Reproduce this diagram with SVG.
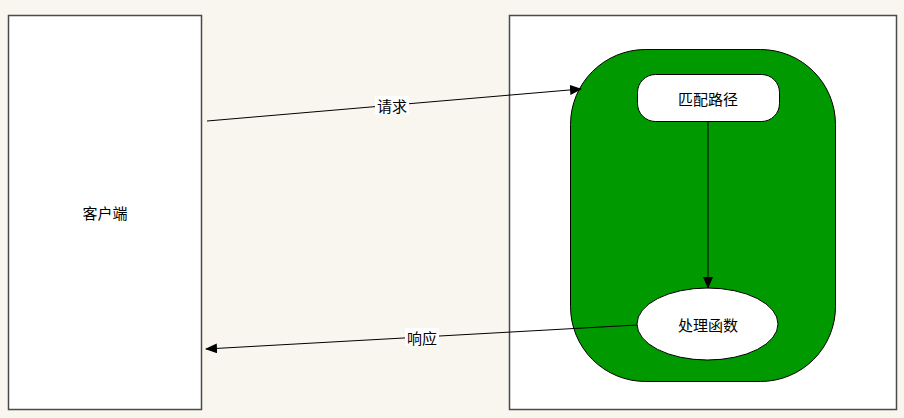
<svg xmlns="http://www.w3.org/2000/svg" width="904" height="418" viewBox="0 0 904 418">
<defs>
<style>
.box{fill:#fff;stroke:#4a4a4a;stroke-width:1.5}
.t{font-family:"Noto Sans CJK SC","Liberation Sans",sans-serif;font-size:15px;fill:#000;text-anchor:middle;dominant-baseline:central}
.ln{stroke:#000;stroke-width:1;fill:none}
.lbl{fill:#fff}
</style>
<marker id="ah" markerWidth="12" markerHeight="10" refX="11" refY="5" orient="auto" markerUnits="userSpaceOnUse">
<path d="M0,0 L12,5 L0,10 z" fill="#000"/>
</marker>
</defs>
<rect width="904" height="418" fill="#f9f6ef"/>
<g id="client">
<rect class="box" x="8.5" y="15.5" width="193" height="394"/>
<text class="t" x="105" y="212">客户端</text>
</g>
<g id="server">
<rect class="box" x="509.5" y="15.5" width="387" height="394"/>
</g>
<g id="router">
<rect x="570.5" y="49.5" width="265" height="332" rx="75" ry="75" fill="#009900" stroke="#000" stroke-width="1"/>
</g>
<g id="match">
<rect x="637.5" y="74.5" width="142" height="47" rx="18" ry="18" fill="#fff" stroke="#000" stroke-width="1"/>
<text class="t" x="708" y="98">匹配路径</text>
</g>
<g id="handler">
<ellipse cx="707.5" cy="324" rx="70.5" ry="36" fill="#fff" stroke="#000" stroke-width="1"/>
<text class="t" x="708" y="324">处理函数</text>
</g>
<g id="connectors">
<line class="ln" x1="207" y1="121" x2="581" y2="89" marker-end="url(#ah)"/>
<rect class="lbl" x="375" y="96" width="34" height="18"/>
<text class="t" x="392" y="105">请求</text>
<line class="ln" x1="708" y1="122" x2="708" y2="288" marker-end="url(#ah)"/>
<line class="ln" x1="637" y1="325" x2="206" y2="349" marker-end="url(#ah)"/>
<rect class="lbl" x="405" y="328" width="34" height="18"/>
<text class="t" x="422" y="337">响应</text>
</g>
</svg>
